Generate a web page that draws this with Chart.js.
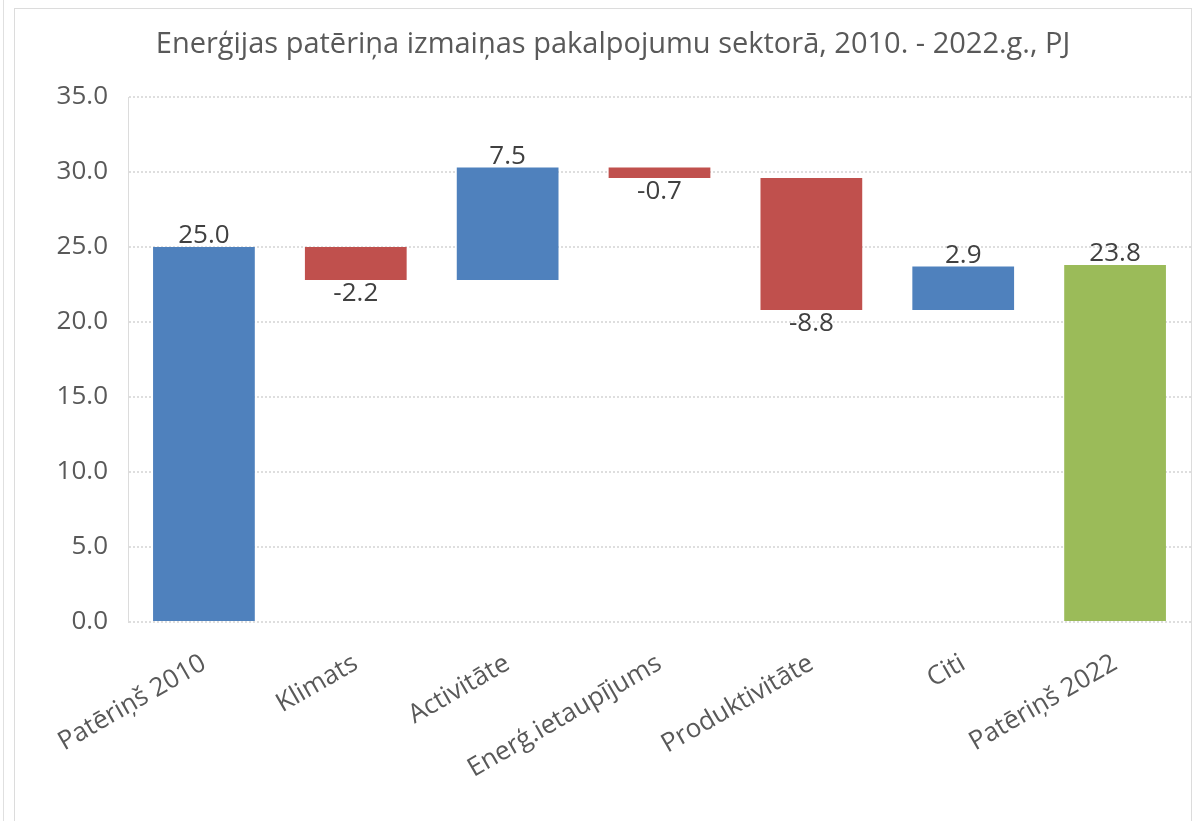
<!DOCTYPE html>
<html>
<head>
<meta charset="utf-8">
<script src="https://cdn.jsdelivr.net/npm/chart.js@4"></script>
<style>
  body { margin: 0; background: #fff; }
  #wrap { position: relative; width: 1196px; height: 821px; }
  #frame { position: absolute; left: 14px; top: 8px; width: 1178px; height: 820px;
           border: 1px solid #dcdcdc; box-sizing: border-box; }
  #edge { position: absolute; left: 3px; top: 0; width: 1px; height: 821px; background: #e0e0e0; }
  canvas { position: absolute; left: 0; top: 0; }
</style>
</head>
<body>
<div id="wrap">
  <div id="edge"></div>
  <div id="frame"></div>
  <canvas id="myChart" width="1196" height="821"></canvas>
</div>
<script>
// categories and values
var categories = ['Patēriņš 2010', 'Klimats', 'Activitāte', 'Enerģ.ietaupījums', 'Produktivitāte', 'Citi', 'Patēriņš 2022'];
var changes = [25.0, -2.2, 7.5, -0.7, -8.8, 2.9, 23.8];
var isTotal = [true, false, false, false, false, false, true];
var yTicks = [0, 5, 10, 15, 20, 25, 30, 35];

var BLUE = '#4F81BD', RED = '#C0504D', GREEN = '#9BBB59';
var FONT = "'Open Sans', sans-serif";

// build floating bars [from, to] for the waterfall
var running = 0;
var bars = [];
var colors = [];
for (var i = 0; i < changes.length; i++) {
    if (isTotal[i]) {
        bars.push([0, changes[i]]);
        running = changes[i];
        colors.push(i === changes.length - 1 ? GREEN : BLUE);
    } else {
        bars.push([running, running + changes[i]]);
        running += changes[i];
        colors.push(changes[i] < 0 ? RED : BLUE);
    }
}

// value labels above positive bars, below negative ones
var valueLabels = {
    id: 'valueLabels',
    afterDatasetsDraw: function (chart) {
        var ctx = chart.ctx;
        var meta = chart.getDatasetMeta(0);
        ctx.save();
        ctx.font = '26px ' + FONT;
        ctx.fillStyle = '#404040';
        ctx.textAlign = 'center';
        meta.data.forEach(function (bar, i) {
            var v = changes[i];
            var top = Math.min(bar.y, bar.base);
            var bottom = Math.max(bar.y, bar.base);
            if (v < 0) {
                ctx.textBaseline = 'top';
                ctx.fillText(v.toFixed(1), bar.x, bottom + 1);
            } else {
                ctx.textBaseline = 'bottom';
                ctx.fillText(v.toFixed(1), bar.x, top + 2);
            }
        });
        ctx.restore();
    }
};

var titleText = {
    id: 'titleText',
    afterDraw: function (chart) {
        var ctx = chart.ctx;
        ctx.save();
        ctx.font = '29px ' + FONT;
        ctx.fillStyle = '#595959';
        ctx.textAlign = 'center';
        ctx.textBaseline = 'middle';
        ctx.fillText('Enerģijas patēriņa izmaiņas pakalpojumu sektorā, 2010. - 2022.g., PJ', 613, 45);
        ctx.restore();
    }
};

var ctx = document.getElementById('myChart').getContext('2d');
var chart = new Chart(ctx, {
    type: 'bar',
    data: {
        labels: categories,
        datasets: [{
            data: bars,
            backgroundColor: colors,
            borderWidth: 0,
            barPercentage: 0.67,
            categoryPercentage: 1.0
        }]
    },
    options: {
        responsive: false,
        animation: false,
        layout: { padding: { left: 18, right: 5, top: 97, bottom: 0 } },
        plugins: {
            legend: { display: false },
            title: { display: false },
            tooltip: { enabled: false }
        },
        scales: {
            x: {
                grid: { display: false },
                border: { display: false },
                ticks: {
                    minRotation: 30,
                    maxRotation: 30,
                    padding: 18,
                    color: '#595959',
                    font: { family: FONT, size: 26 }
                },
                afterFit: function (scale) { scale.height = 199; }
            },
            y: {
                min: 0,
                max: 35,
                afterBuildTicks: function (scale) {
                    scale.ticks = yTicks.map(function (v) { return { value: v }; });
                },
                grid: { color: '#dedede', lineWidth: 2, drawTicks: false },
                border: { display: true, color: '#dcdcdc', dash: [2, 2] },
                ticks: {
                    padding: 20,
                    color: '#595959',
                    font: { family: FONT, size: 26 },
                    callback: function (v) { return Number(v).toFixed(1); }
                },
                afterFit: function (scale) { scale.width = 110; }
            }
        }
    },
    plugins: [valueLabels, titleText]
});
</script>
</body>
</html>
